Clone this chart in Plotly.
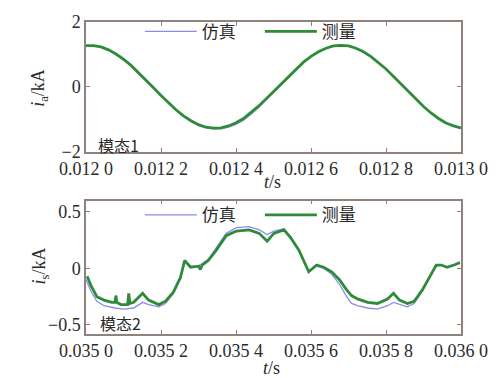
import plotly.graph_objects as go

# ---------- data ----------
t_top = [0.01200 + k * 0.00002 for k in range(51)]
meas_top = [1.27, 1.27, 1.23, 1.14, 1.01, 0.85, 0.66, 0.44, 0.21, -0.03,
            -0.27, -0.50, -0.71, -0.90, -1.05, -1.17, -1.25, -1.28, -1.27, -1.21,
            -1.11, -0.98, -0.80, -0.60, -0.38, -0.15, 0.09, 0.33, 0.56, 0.76,
            0.94, 1.08, 1.19, 1.26, 1.28, 1.26, 1.19, 1.08, 0.93, 0.75,
            0.55, 0.32, 0.08, -0.15, -0.39, -0.61, -0.81, -0.98, -1.12, -1.21,
            -1.27]
sim_top = [1.27, 1.27, 1.23, 1.14, 1.01, 0.85, 0.66, 0.44, 0.21, -0.03,
           -0.27, -0.50, -0.72, -0.91, -1.07, -1.19, -1.27, -1.30, -1.30, -1.25,
           -1.16, -1.03, -0.85, -0.64, -0.41, -0.17, 0.08, 0.32, 0.55, 0.76,
           0.94, 1.08, 1.19, 1.26, 1.28, 1.26, 1.19, 1.08, 0.93, 0.75,
           0.55, 0.32, 0.08, -0.15, -0.39, -0.61, -0.81, -0.98, -1.12, -1.22,
           -1.29]

t_bot_meas = [0.035003, 0.035013, 0.035029, 0.035048, 0.035069, 0.035077, 0.035080, 0.035082,
              0.035093, 0.035111, 0.035114, 0.035117, 0.035127, 0.035151, 0.035167, 0.035194,
              0.035212, 0.035233, 0.035252, 0.035263, 0.035279, 0.035300, 0.035305, 0.035310,
              0.035326, 0.035347, 0.035374, 0.035401, 0.035435, 0.035462, 0.035483, 0.035501,
              0.035528, 0.035546, 0.035568, 0.035586, 0.035594, 0.035615, 0.035634, 0.035655,
              0.035676, 0.035695, 0.035708, 0.035724, 0.035751, 0.035777, 0.035804, 0.035820,
              0.035836, 0.035857, 0.035875, 0.035897, 0.035915, 0.035934, 0.035947, 0.035963,
              0.035981, 0.035997]
meas_bot = [-0.07, -0.15, -0.25, -0.28, -0.30, -0.30, -0.24, -0.30,
            -0.32, -0.32, -0.22, -0.31, -0.30, -0.22, -0.28, -0.32,
            -0.29, -0.21, -0.08, 0.07, 0.01, 0.02, -0.01, 0.03,
            0.07, 0.16, 0.29, 0.33, 0.34, 0.31, 0.24, 0.31,
            0.34, 0.27, 0.16, 0.03, -0.03, 0.03, 0.01, -0.03,
            -0.10, -0.19, -0.24, -0.27, -0.30, -0.31, -0.27, -0.22,
            -0.28, -0.31, -0.29, -0.19, -0.08, 0.03, 0.03, 0.01,
            0.03, 0.05]

t_bot_sim = [0.035000, 0.035013, 0.035029, 0.035048, 0.035077, 0.035100, 0.035127, 0.035151,
             0.035167, 0.035194, 0.035212, 0.035233, 0.035252, 0.035263, 0.035279, 0.035300,
             0.035326, 0.035347, 0.035374, 0.035401, 0.035435, 0.035462, 0.035483, 0.035501,
             0.035528, 0.035546, 0.035568, 0.035586, 0.035594, 0.035615, 0.035634, 0.035655,
             0.035676, 0.035695, 0.035708, 0.035724, 0.035751, 0.035777, 0.035804, 0.035820,
             0.035836, 0.035857, 0.035875, 0.035897, 0.035915, 0.035934, 0.035947, 0.035963,
             0.035981, 0.035997]
sim_bot = [-0.10, -0.20, -0.29, -0.33, -0.35, -0.36, -0.35, -0.30,
           -0.32, -0.34, -0.31, -0.22, -0.08, 0.06, 0.02, 0.02,
           0.08, 0.18, 0.31, 0.36, 0.37, 0.34, 0.30, 0.33,
           0.35, 0.28, 0.16, 0.03, -0.02, 0.02, 0.00, -0.05,
           -0.14, -0.25, -0.31, -0.33, -0.35, -0.36, -0.33, -0.30,
           -0.32, -0.34, -0.31, -0.20, -0.08, 0.02, 0.03, 0.01,
           0.03, 0.06]

top_xticks = [0.0120, 0.0122, 0.0124, 0.0126, 0.0128, 0.0130]
top_xlabels = ["0.012 0", "0.012 2", "0.012 4", "0.012 6", "0.012 8", "0.013 0"]
bot_xticks = [0.0350, 0.0352, 0.0354, 0.0356, 0.0358, 0.0360]
bot_xlabels = ["0.035 0", "0.035 2", "0.035 4", "0.035 6", "0.035 8", "0.036 0"]
top_yticks = [-2, 0, 2]
top_ylabels = ["\u22122", "0", "2"]
bot_yticks = [-0.5, 0, 0.5]
bot_ylabels = ["\u22120.5", "0", "0.5"]

# ---------- style ----------
SIM_C = "#8c8ce8"
MEAS_C = "#2f8a3a"
FRAME = "#8f817c"
SERIF = "Liberation Serif"
CJK = "Noto Sans CJK SC"
TXT = "#2a2a2a"

fig = go.Figure()
fig.add_trace(go.Scatter(x=t_top, y=sim_top, mode="lines", name="仿真",
                         line=dict(color=SIM_C, width=1.3), xaxis="x", yaxis="y", legend="legend"))
fig.add_trace(go.Scatter(x=t_top, y=meas_top, mode="lines", name="测量",
                         line=dict(color=MEAS_C, width=2.8), xaxis="x", yaxis="y", legend="legend"))
fig.add_trace(go.Scatter(x=t_bot_sim, y=sim_bot, mode="lines", name="仿真",
                         line=dict(color=SIM_C, width=1.3), xaxis="x2", yaxis="y2", legend="legend2"))
fig.add_trace(go.Scatter(x=t_bot_meas, y=meas_bot, mode="lines", name="测量",
                         line=dict(color=MEAS_C, width=2.8), xaxis="x2", yaxis="y2", legend="legend2"))

W, H = 500, 378
ML, MR, MT, MB = 86, 38, 16, 44
PH = H - MT - MB

def py(pix):
    return (H - MB - pix) / PH

def px(pix):
    return (pix - ML) / (W - ML - MR)

axis_common = dict(showline=True, linecolor=FRAME, linewidth=1.5, mirror="ticks",
                   ticks="inside", ticklen=4, tickcolor=FRAME, showgrid=False, zeroline=False,
                   tickfont=dict(family=SERIF, size=18, color=TXT))

leg_common = dict(orientation="h", xanchor="left", yanchor="middle",
                  bgcolor="rgba(0,0,0,0)", font=dict(family=CJK, size=17, color=TXT),
                  entrywidth=53, entrywidthmode="pixels", itemwidth=52)

fig.update_layout(
    width=W, height=H,
    margin=dict(l=ML, r=MR, t=MT, b=MB),
    paper_bgcolor="white", plot_bgcolor="white",
    xaxis=dict(domain=[0, 1], range=[0.0120, 0.0130], tickvals=top_xticks, ticktext=top_xlabels,
               anchor="y", **axis_common),
    yaxis=dict(domain=[py(148), 1], range=[-2, 2], tickvals=top_yticks, ticktext=top_ylabels,
               anchor="x", **axis_common),
    xaxis2=dict(domain=[0, 1], range=[0.0350, 0.0360], tickvals=bot_xticks, ticktext=bot_xlabels,
                anchor="y2", **axis_common),
    yaxis2=dict(domain=[0, py(198)], range=[-0.58, 0.6], tickvals=bot_yticks, ticktext=bot_ylabels,
                anchor="x2", **axis_common),
    legend=dict(x=px(140), y=py(26), **leg_common),
    legend2=dict(x=px(140), y=py(213), **leg_common),
    showlegend=True,
)

def note(text, xp, yp, family, size, angle=0):
    return dict(text=text, x=px(xp), y=py(yp), xref="paper", yref="paper",
                xanchor="center", yanchor="middle", showarrow=False, textangle=angle,
                font=dict(family=family, size=size, color=TXT))

ann = [
    note("<i>t</i>/s", 273, 179, SERIF, 18),
    note("<i>t</i>/s", 272, 369, SERIF, 18),
    note("<i>i</i><sub>a</sub>/kA", 40, 83, SERIF, 18, -90),
    note("<i>i</i><sub>s</sub>/kA", 40, 265, SERIF, 18, -90),
    note("模态1", 119, 141, CJK, 16),
    note("模态2", 121, 323, CJK, 16),
]
fig.update_layout(annotations=ann)

fig.write_html("out.html")
